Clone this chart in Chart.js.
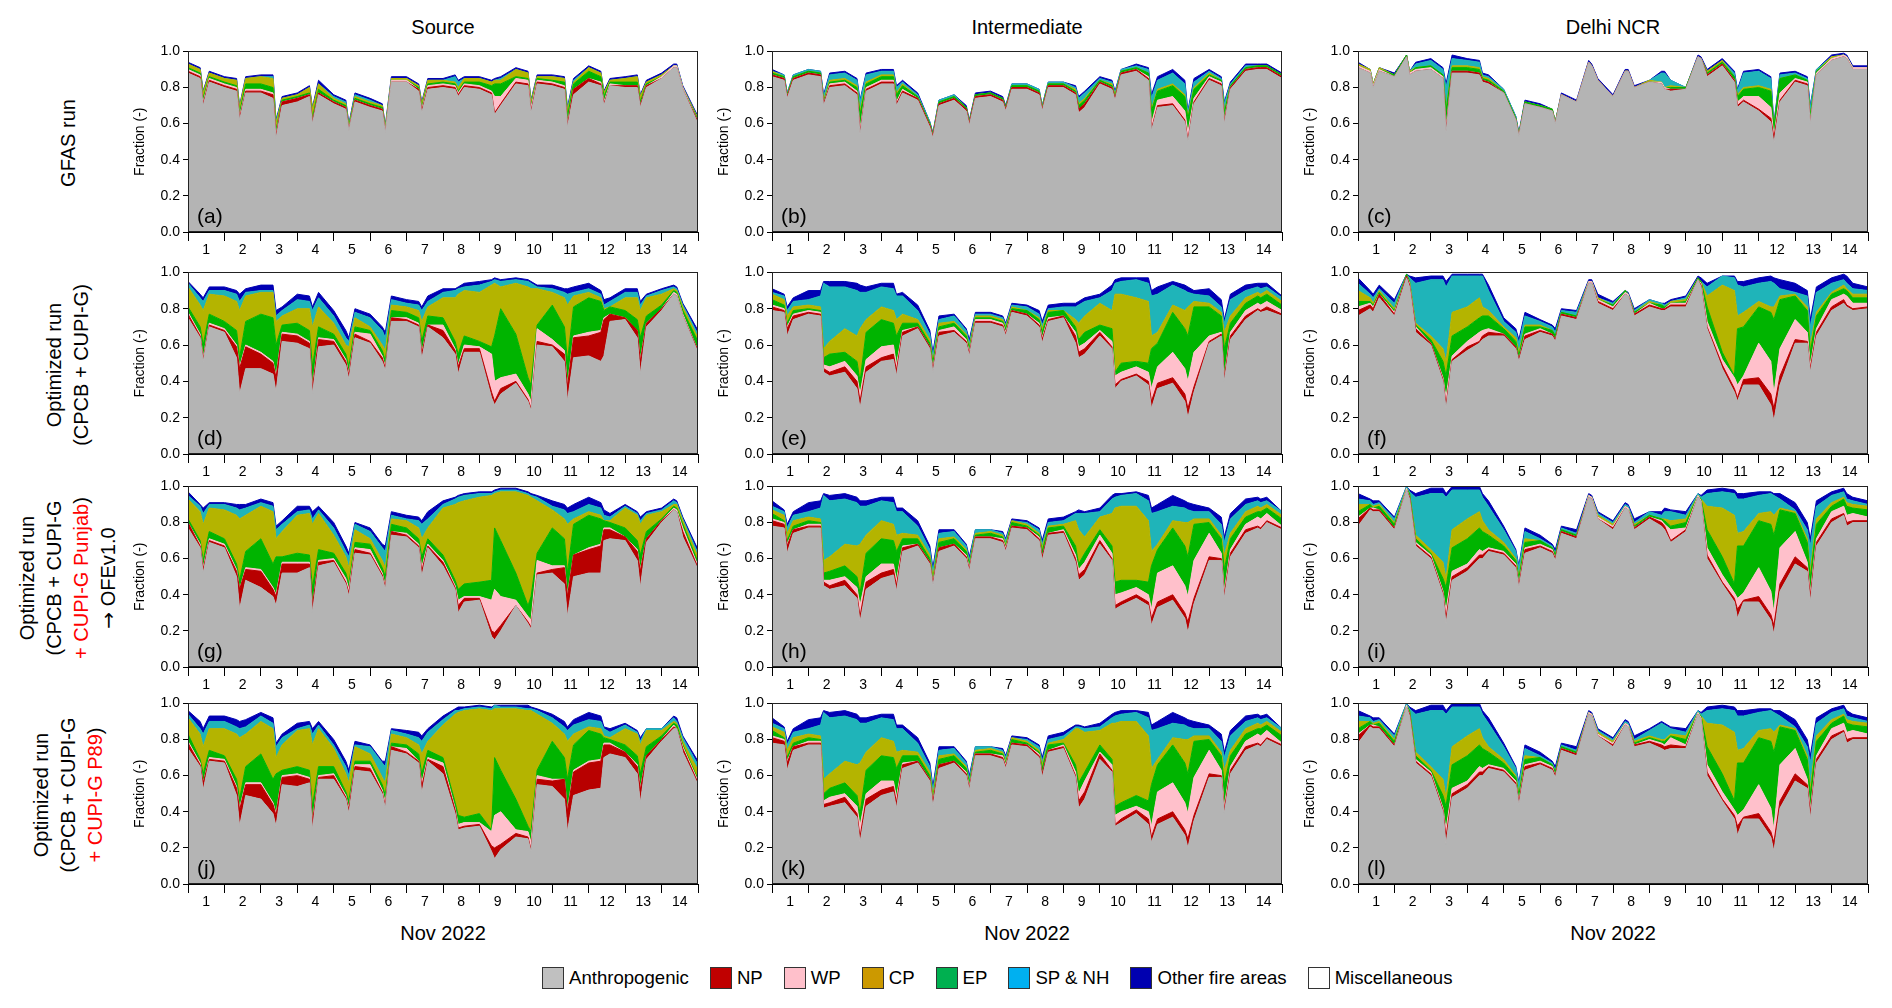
<!DOCTYPE html>
<html lang="en">
<head>
<meta charset="utf-8">
<script src="https://cdn.jsdelivr.net/npm/chart.js@4.4.0/dist/chart.umd.min.js"></script>
<style>
  body { margin: 0; width: 1892px; height: 1008px; position: relative; overflow: hidden; background: #fff;
         font-family: "Liberation Sans", Arial, sans-serif; color: #000; }
  canvas { position: absolute; }
  .coltitle, .xtitle { position: absolute; width: 400px; text-align: center; font-size: 20px; line-height: 24px; }
  .rowlabel { position: absolute; width: 300px; text-align: center; font-size: 20px; line-height: 27px;
              transform: translate(-50%, -50%) rotate(-90deg); white-space: nowrap; }
  .red { color: #ff0000; }
  .arrow { font-family: "DejaVu Sans", sans-serif; font-size: 20px; color: #000; }
  #legend { position: absolute; left: 542px; top: 967px; display: flex; align-items: center; font-size: 18.6px; }
  #legend .item { display: flex; align-items: center; margin-right: 21px; }
  #legend .box { width: 20px; height: 20px; border: 1.5px solid #333; margin-right: 5px; }
  #err { position: absolute; left: 10px; top: 990px; color: red; font-size: 12px; }
</style>
</head>
<body>
<div id="legend"></div>
<div id="err"></div>
<script>
const dayLabels = ['1', '2', '3', '4', '5', '6', '7', '8', '9', '10', '11', '12', '13', '14'];
const yTickLabels = ['0.0', '0.2', '0.4', '0.6', '0.8', '1.0'];
const sampleHours = [0, 8, 10, 14];
const columnTitles = ['Source', 'Intermediate', 'Delhi NCR'];

// stacking order in the plots (bottom -> top)
const layerNames = ['Anthropogenic', 'NP', 'WP', 'EP', 'CP', 'SP & NH', 'Other fire areas'];
const layerColors = ['#b4b4b4', '#b80000', '#ffc0cb', '#00b400', '#b4b400', '#1fb4b9', '#0000b4'];

const legendNames = ['Anthropogenic', 'NP', 'WP', 'CP', 'EP', 'SP & NH', 'Other fire areas', 'Miscellaneous'];
const legendColors = ['#c0c0c0', '#c00000', '#ffc0cb', '#cc9900', '#00b050', '#00b0f0', '#0000b0', '#ffffff'];

// time axis: days since 1 Nov 00h, four samples a day plus the end of 14 Nov
const times = [];
for (let d = 0; d < 14; d++) sampleHours.forEach(h => times.push(d + h / 24));
times.push(14);

// values in %: upper edge of each stacked band (anth, +NP, +WP, +EP, +CP, +SP&NH, +other)
// (a) GFAS run, source
const a_anth = [88,85,70,83, 80,78,62,77, 77,74,52,70, 72,75,60,76, 71,68,56,72, 69,67,55,83, 83,78,66,79, 80,79,75,80, 79,76,65,70, 82,81,66,82, 81,79,58,76, 83,81,70,81, 80,80,69,80, 85,91,91,79, 60];
const a_np   = [89,86,71,84, 81,79,63,78, 78,76,53,72, 74,76,61,77, 72,69,56,73, 70,68,55,83, 83,79,67,80, 81,80,76,81, 80,77,66,71, 83,82,67,83, 82,80,59,79, 85,82,71,81, 81,81,70,81, 85,91,91,79, 61];
const a_wp   = [90,87,72,85, 82,80,64,79, 79,77,54,72, 74,76,61,77, 72,69,57,73, 70,68,56,84, 84,79,68,81, 82,81,77,82, 81,78,75,75, 85,84,69,84, 83,81,60,79, 85,83,72,82, 81,81,70,81, 86,92,92,80, 61];
const a_ep   = [91,88,74,86, 83,81,66,82, 82,80,56,73, 75,77,63,79, 73,70,58,74, 71,69,57,84, 84,80,69,82, 83,82,78,83, 83,81,82,82, 86,85,70,85, 84,83,64,82, 89,86,75,83, 83,83,72,82, 86,92,92,80, 62];
const a_cp   = [93,90,77,88, 85,84,69,85, 86,85,60,74, 76,80,68,82, 74,71,59,75, 72,70,58,85, 85,81,71,84, 84,83,80,85, 85,83,84,84, 90,88,72,86, 86,85,67,83, 91,88,77,84, 85,86,75,83, 87,92,92,80, 63];
const a_sp   = [93,90,77,88, 85,84,69,85, 86,86,61,74, 76,80,68,82, 75,72,59,76, 73,70,58,85, 85,81,71,84, 84,86,83,85, 85,83,84,85, 90,88,72,86, 86,85,68,84, 91,88,77,84, 85,86,75,83, 87,92,92,80, 63];
const a_oth  = [94,91,78,89, 86,85,70,86, 87,87,62,75, 77,81,69,84, 76,73,60,77, 74,71,59,86, 86,82,72,85, 85,87,84,86, 86,84,85,86, 91,89,73,87, 87,86,69,85, 92,89,78,85, 86,87,76,84, 88,93,93,81, 64];
// (b) GFAS run, intermediate
const b_anth = [86,84,74,84, 87,86,70,80, 81,76,54,78, 82,82,70,77, 73,58,52,70, 73,67,59,74, 75,72,67,79, 79,76,67,80, 80,76,66,69, 82,79,73,87, 89,84,56,69, 70,61,50,71, 84,81,60,79, 89,90,90,90, 85];
const b_np   = [87,85,75,85, 88,87,71,81, 82,77,55,79, 83,83,71,78, 74,59,53,71, 74,68,60,75, 76,73,68,80, 80,77,68,81, 81,77,68,71, 83,80,74,88, 90,85,57,70, 71,62,51,72, 85,82,61,80, 90,91,91,91, 86];
const b_wp   = [87,85,75,85, 88,87,71,82, 83,78,57,80, 84,84,72,79, 74,59,53,71, 74,68,60,75, 76,73,68,80, 80,77,68,81, 81,77,68,71, 83,80,74,88, 90,86,60,73, 75,67,55,74, 86,83,62,80, 90,91,91,91, 86];
const b_ep   = [88,86,76,86, 89,88,72,83, 84,80,65,82, 86,86,76,81, 75,60,54,72, 75,69,61,76, 77,74,69,81, 81,78,69,82, 82,78,70,73, 84,81,75,89, 91,88,67,78, 81,75,63,79, 87,84,66,81, 91,92,92,92, 87];
const b_cp   = [89,86,76,86, 89,88,73,84, 85,81,67,83, 87,87,77,82, 75,60,54,72, 75,69,61,76, 77,74,69,81, 81,78,69,82, 82,79,71,74, 84,82,76,89, 91,88,68,79, 82,76,64,80, 88,84,67,81, 91,92,92,92, 87];
const b_sp   = [89,87,77,87, 90,89,75,87, 88,84,72,87, 89,89,80,83, 76,61,54,73, 76,69,61,76, 77,74,69,82, 82,79,70,83, 83,80,74,77, 85,83,77,90, 92,90,74,84, 88,82,66,83, 89,85,71,82, 92,92,92,92, 87];
const b_oth  = [90,87,77,87, 90,89,76,88, 89,85,73,88, 90,90,81,84, 77,61,55,73, 76,70,62,77, 78,75,70,82, 82,79,70,83, 83,81,75,78, 86,84,78,90, 93,91,76,86, 90,84,67,85, 90,86,72,83, 93,93,93,93, 88];
// (c) GFAS run, Delhi NCR
const c_anth = [91,88,80,89, 86,97,87,89, 90,85,55,88, 88,87,83,82, 77,62,53,71, 69,67,60,76, 72,94,92,84, 75,89,89,80, 83,82,79,78, 79,97,96,86, 92,83,69,72, 67,61,49,72, 83,81,60,87, 95,97,96,90, 90];
const c_np   = [91,88,80,89, 86,97,87,89, 90,85,56,89, 89,88,84,83, 77,62,53,71, 69,67,60,76, 72,94,92,84, 75,89,89,80, 83,82,79,79, 79,97,96,87, 93,84,70,73, 68,63,52,73, 84,82,60,87, 95,97,96,90, 90];
const c_wp   = [92,89,81,90, 86,97,88,90, 91,86,58,89, 89,88,84,83, 77,62,53,71, 69,67,60,76, 72,94,92,84, 75,89,89,80, 83,83,80,79, 79,97,96,87, 93,84,72,75, 75,69,53,77, 85,83,61,88, 96,98,97,91, 91];
const c_ep   = [92,89,81,90, 87,98,88,91, 92,87,67,91, 91,90,85,84, 78,63,54,72, 70,68,61,76, 72,94,92,84, 75,89,89,80, 83,83,80,80, 80,97,96,88, 94,86,75,79, 80,78,58,85, 87,84,64,89, 96,98,97,91, 91];
const c_cp   = [93,90,82,91, 87,98,89,91, 92,87,68,92, 92,91,86,85, 78,63,54,72, 70,68,61,76, 72,94,92,84, 75,89,89,80, 84,83,80,81, 80,97,96,89, 95,86,76,80, 81,79,58,85, 87,84,64,89, 97,98,97,91, 91];
const c_sp   = [93,90,82,91, 87,98,89,93, 95,90,80,96, 95,94,87,86, 79,64,54,72, 70,68,61,76, 72,94,92,84, 75,89,89,80, 84,88,88,84, 80,97,96,89, 95,88,78,88, 89,85,59,87, 88,85,69,90, 97,98,97,91, 91];
const c_oth  = [94,90,82,91, 88,98,89,94, 96,91,82,98, 96,95,88,87, 79,64,55,73, 71,68,61,77, 73,95,93,85, 76,90,90,81, 84,89,89,84, 80,98,97,90, 96,89,79,89, 90,86,60,88, 89,86,70,90, 98,99,98,92, 92];
// (d) optimized run, source
const d_anth = [75,64,51,70, 67,53,33,47, 47,44,34,62, 61,58,33,59, 60,49,41,64, 61,51,46,73, 73,70,52,70, 64,55,44,56, 56,31,27,33, 39,29,24,60, 59,51,29,53, 54,51,54,73, 74,64,44,70, 79,88,87,76, 56];
const d_np   = [77,65,52,71, 68,59,47,59, 55,50,42,66, 65,61,36,63, 62,51,43,66, 62,53,47,75, 74,71,55,71, 68,57,48,58, 58,34,29,36, 40,30,25,62, 60,55,37,64, 65,67,74,77, 75,68,51,72, 80,88,87,76, 57];
const d_wp   = [78,66,53,72, 69,60,48,60, 56,51,43,67, 66,62,37,64, 63,52,44,67, 66,54,48,75, 75,72,56,71, 71,58,49,60, 59,55,40,42, 44,33,29,69, 63,57,38,65, 67,68,75,77, 75,68,52,72, 80,89,88,77, 57];
const d_ep   = [81,70,60,77, 73,68,53,73, 77,75,60,71, 72,68,48,70, 66,55,48,70, 68,57,51,79, 78,75,62,76, 75,62,55,65, 62,59,65,80, 66,42,38,71, 82,70,51,81, 86,84,79,81, 79,74,64,76, 82,90,89,79, 62];
const d_cp   = [92,82,79,88, 87,84,79,87, 89,89,73,76, 80,80,70,81, 72,60,59,75, 70,60,57,82, 81,79,73,81, 86,86,88,90, 89,93,94,92, 94,92,91,91, 89,86,82,87, 89,86,80,81, 86,86,79,86, 88,91,90,81, 64];
const d_sp   = [94,86,84,90, 90,88,84,89, 90,90,76,79, 85,84,79,86, 76,64,62,78, 75,68,64,85, 83,82,79,84, 89,90,91,92, 93,95,96,95, 96,95,94,92, 91,89,88,89, 91,88,82,84, 89,89,82,87, 90,92,91,82, 66];
const d_oth  = [95,88,86,92, 92,90,88,91, 93,93,79,81, 88,87,81,89, 79,68,64,80, 77,70,67,87, 85,84,81,87, 91,91,92,94, 95,96,97,96, 97,96,95,93, 93,91,91,92, 94,90,85,86, 91,91,84,88, 91,93,92,83, 68];
// (e) optimized run, intermediate
const e_anth = [79,78,65,74, 77,76,45,43, 45,36,25,45, 51,52,43,65, 69,58,45,65, 67,61,54,72, 72,70,65,78, 76,70,61,73, 75,61,53,55, 65,58,36,40, 43,38,25,36, 39,29,20,34, 61,65,40,63, 74,79,78,79, 76];
const e_np   = [81,79,69,76, 78,77,47,45, 48,40,29,48, 53,55,46,67, 70,59,46,67, 68,62,55,73, 73,71,66,79, 77,71,63,74, 76,65,56,58, 67,59,38,41, 44,40,29,39, 42,33,25,37, 62,66,42,65, 76,80,79,81, 77];
const e_wp   = [82,80,70,77, 79,78,49,48, 51,43,33,52, 59,60,49,68, 70,59,47,68, 70,63,56,74, 74,72,67,79, 77,72,64,75, 76,67,59,61, 68,62,43,45, 48,45,36,48, 56,47,40,56, 65,67,43,67, 79,83,82,84, 79];
const e_ep   = [85,82,72,79, 80,79,53,55, 56,51,40,67, 74,72,65,72, 72,61,50,70, 72,65,58,75, 75,73,69,80, 79,74,67,78, 79,70,63,67, 71,69,45,50, 51,50,58,61, 78,69,65,81, 81,76,58,72, 83,87,86,88, 82];
const e_cp   = [88,85,76,81, 82,81,58,62, 69,65,69,74, 81,79,74,77, 74,63,51,72, 73,66,59,76, 76,74,70,81, 79,75,69,79, 79,74,72,76, 83,79,88,88, 86,84,65,67, 82,79,81,84, 83,78,67,76, 86,89,88,90, 84];
const e_sp   = [89,87,79,84, 85,87,94,92, 92,90,89,89, 92,91,87,87, 79,66,54,74, 76,68,61,77, 77,75,71,82, 81,77,71,80, 81,81,82,84, 86,90,94,95, 96,94,87,88, 93,90,89,88, 87,81,72,85, 90,92,91,92, 86];
const e_oth  = [91,88,81,86, 90,90,95,95, 95,94,93,92, 94,94,88,89, 82,68,56,76, 77,69,63,78, 78,76,72,83, 82,79,73,82, 83,83,84,86, 88,93,96,97, 97,97,90,92, 95,93,92,90, 91,85,74,88, 93,94,94,94, 87];
// (f) optimized run, Delhi NCR
const f_anth = [76,80,78,86, 76,97,92,67, 60,40,25,51, 57,61,63,65, 65,58,51,63, 67,65,62,76, 74,94,94,83, 79,88,87,76, 81,79,79,81, 81,96,92,69, 47,34,29,38, 38,27,18,38, 61,61,45,65, 79,83,81,79, 80];
const f_np   = [79,82,80,88, 77,98,93,69, 61,41,27,52, 59,62,65,67, 66,59,52,65, 68,66,63,77, 75,94,94,84, 80,88,87,77, 82,80,80,82, 82,96,93,70, 49,36,31,41, 42,33,25,43, 63,62,47,67, 81,85,82,80, 81];
const f_wp   = [81,83,81,88, 78,98,94,70, 61,42,31,54, 62,67,68,69, 66,59,52,66, 69,66,63,77, 75,95,95,85, 81,89,88,77, 83,80,80,83, 83,96,94,73, 52,42,38,43, 61,51,33,58, 74,67,49,69, 85,88,87,83, 83];
const f_ep   = [84,84,82,89, 79,99,95,71, 63,51,43,65, 70,75,76,76, 69,62,54,70, 70,68,65,78, 76,95,95,85, 82,90,88,78, 83,82,81,83, 84,97,95,81, 56,43,69,70, 81,78,74,85, 87,79,56,76, 88,91,90,86, 86];
const f_cp   = [90,86,83,90, 80,99,95,72, 65,58,51,78, 81,86,81,79, 70,64,56,71, 71,68,65,78, 76,95,95,86, 82,90,88,78, 84,82,81,84, 85,97,95,87, 93,90,76,78, 84,81,81,87, 88,81,60,78, 89,93,91,88, 88];
const f_sp   = [94,88,86,91, 83,99,97,94, 96,96,92,98, 98,98,98,90, 73,67,61,76, 73,70,67,79, 78,95,95,86, 83,90,88,79, 85,83,82,84, 86,97,95,92, 98,97,93,92, 94,95,94,91, 89,87,70,89, 94,96,94,91, 90];
const f_oth  = [97,90,88,93, 85,99,98,97, 98,98,95,99, 99,99,99,93, 75,69,63,78, 74,71,69,80, 79,96,96,88, 84,90,89,80, 85,83,83,85, 87,98,97,94, 98,98,95,95, 97,98,97,96, 94,90,74,92, 97,99,98,94, 92];
// (g) optimized run + CUPI-G Punjab -> OFEv1.0, source
const g_anth = [77,66,52,69, 66,50,32,48, 44,39,34,52, 52,55,30,56, 58,46,39,63, 62,50,43,73, 72,66,50,66, 56,43,30,36, 37,17,15,20, 34,24,21,51, 52,46,28,50, 52,52,70,71, 70,59,44,69, 80,87,86,72, 54];
const g_np   = [80,67,54,70, 67,53,43,54, 53,43,39,57, 57,57,34,58, 59,47,41,65, 63,51,44,75, 73,67,53,67, 58,44,34,38, 38,20,19,23, 34,25,22,52, 54,55,39,62, 65,67,76,76, 72,64,53,71, 81,87,86,75, 55];
const g_wp   = [80,68,55,71, 68,54,43,55, 54,44,40,58, 58,58,34,59, 60,49,43,66, 65,52,45,75, 74,68,55,68, 59,45,37,39, 39,37,43,39, 37,28,26,59, 56,56,40,62, 66,68,77,77, 72,65,54,71, 81,88,87,77, 56];
const g_ep   = [82,70,59,75, 71,57,48,64, 71,57,61,61, 63,62,44,65, 63,52,46,69, 68,55,50,79, 77,71,61,71, 62,48,43,46, 47,48,77,70, 52,34,39,63, 77,71,52,79, 84,82,81,80, 77,70,62,75, 82,89,88,79, 58];
const g_cp   = [93,86,79,88, 87,84,82,84, 89,86,71,75, 84,85,79,85, 73,61,55,76, 71,59,55,82, 81,77,71,77, 88,90,91,92, 94,95,96,97, 97,95,94,92, 87,82,79,82, 86,84,81,81, 88,84,79,84, 86,90,90,81, 61];
const g_sp   = [95,89,85,90, 90,88,87,88, 91,89,76,79, 86,87,82,87, 77,64,61,79, 75,66,64,84, 82,81,79,82, 90,93,94,95, 96,96,97,98, 98,96,95,94, 89,87,85,86, 90,88,84,83, 89,85,81,85, 87,92,91,82, 63];
const g_oth  = [97,90,88,91, 91,90,90,90, 93,91,78,81, 89,89,86,89, 80,67,63,80, 77,68,67,86, 84,83,81,86, 92,94,95,96, 97,97,98,99, 99,97,96,95, 92,90,88,90, 94,91,87,85, 90,86,83,86, 88,93,92,83, 65];
// (h) optimized run + CUPI-G Punjab -> OFEv1.0, intermediate
const h_anth = [78,77,63,74, 77,77,45,43, 45,38,25,43, 49,51,42,64, 67,57,45,64, 67,60,53,71, 71,69,64,77, 76,70,59,73, 74,58,48,51, 68,59,32,34, 38,34,23,33, 37,27,19,35, 59,59,38,61, 74,77,76,80, 76];
const h_np   = [81,79,67,76, 78,78,47,45, 48,40,28,47, 52,54,45,66, 68,58,46,66, 68,61,54,72, 72,70,65,78, 77,71,61,74, 75,60,51,54, 70,60,34,36, 40,36,27,36, 40,30,25,38, 61,60,40,63, 76,78,77,81, 77];
const h_wp   = [82,80,68,76, 79,79,48,48, 50,44,34,50, 57,57,48,67, 68,58,47,66, 68,62,55,72, 72,71,66,78, 77,72,61,74, 76,62,54,58, 73,63,40,41, 44,40,32,52, 56,45,39,59, 74,63,42,65, 79,83,82,85, 78];
const h_ep   = [85,81,70,78, 81,80,52,53, 56,50,41,63, 71,70,64,71, 71,60,48,69, 71,64,57,73, 74,72,67,80, 78,73,64,77, 78,67,57,63, 76,67,47,48, 48,47,56,65, 77,67,61,79, 80,71,54,71, 83,86,86,88, 82];
const h_cp   = [87,84,74,81, 83,82,59,61, 68,67,68,73, 81,79,73,74, 73,62,50,71, 72,65,57,74, 75,73,68,81, 79,74,66,78, 79,81,76,72, 83,85,88,89, 89,81,64,68, 81,80,80,82, 82,73,62,74, 86,89,88,90, 84];
const h_sp   = [89,86,77,84, 86,88,95,92, 93,91,89,89, 92,91,86,86, 78,65,53,74, 75,67,59,76, 76,74,70,81, 80,76,68,80, 81,85,85,85, 86,93,94,95, 96,92,85,86, 89,88,87,86, 86,79,69,82, 90,92,91,92, 86];
const h_oth  = [92,87,79,86, 91,92,96,95, 96,94,92,92, 94,94,88,88, 81,67,55,76, 76,68,61,76, 76,75,71,82, 81,77,70,82, 83,86,87,86, 88,95,96,96, 97,95,88,90, 95,92,91,90, 88,83,72,85, 93,94,93,94, 86];
// (i) optimized run + CUPI-G Punjab -> OFEv1.0, Delhi NCR
const i_anth = [78,87,86,86, 76,98,93,67, 60,40,24,48, 53,60,60,64, 62,55,44,63, 66,63,59,74, 71,94,93,82, 76,88,87,76, 82,78,76,69, 75,94,91,60, 46,36,27,36, 36,26,18,42, 57,53,36,67, 80,84,78,80, 80];
const i_np   = [82,88,87,87, 77,98,94,68, 61,41,27,50, 55,62,62,65, 63,56,45,65, 67,64,60,75, 72,94,93,82, 77,88,87,77, 83,80,78,70, 76,94,91,62, 47,38,32,37, 39,29,23,46, 61,55,39,69, 82,85,80,81, 81];
const i_wp   = [83,88,88,87, 77,99,94,69, 62,42,31,53, 57,65,64,66, 64,57,46,66, 68,65,60,75, 72,95,94,83, 78,89,88,77, 83,81,79,76, 77,95,92,66, 51,41,38,41, 55,42,30,66, 75,58,41,71, 86,89,84,85, 83];
const i_ep   = [86,90,88,89, 79,99,96,71, 63,49,44,66, 71,77,75,73, 67,59,49,69, 70,66,62,76, 73,95,94,83, 78,89,88,78, 84,82,81,78, 80,95,93,76, 61,46,67,67, 81,79,73,87, 85,69,49,79, 89,93,89,88, 87];
const i_cp   = [90,90,89,90, 80,99,96,73, 65,58,49,76, 82,86,81,76, 69,60,50,71, 70,66,62,76, 73,95,94,84, 79,89,88,79, 84,82,82,81, 82,95,93,89, 88,84,74,75, 85,86,84,88, 86,71,53,82, 91,94,91,90, 89];
const i_sp   = [93,92,90,91, 82,100,97,94, 96,96,94,98, 98,98,94,89, 76,64,55,75, 71,67,63,77, 74,95,94,85, 80,90,89,80, 86,84,86,86, 84,96,94,96, 97,96,93,93, 95,96,95,93, 87,76,67,89, 95,97,93,92, 90];
const i_oth  = [96,93,92,92, 83,100,98,96, 99,99,96,100, 100,100,96,92, 78,65,56,77, 73,68,65,78, 76,96,95,86, 81,91,90,82, 86,86,88,87, 86,96,95,98, 99,98,96,96, 97,97,96,96, 91,80,71,92, 97,99,96,94, 92];
// (j) optimized run + CUPI-G P89, source
const j_anth = [75,65,52,68, 67,49,32,49, 47,39,32,55, 54,56,30,58, 58,47,39,63, 62,50,42,74, 72,67,50,68, 61,39,30,31, 32,18,14,19, 26,25,18,55, 54,47,29,49, 52,53,70,72, 70,61,45,69, 79,86,86,73, 55];
const j_np   = [78,66,56,69, 68,53,41,55, 55,44,38,59, 60,58,34,59, 60,48,41,65, 64,51,43,76, 73,68,54,69, 65,41,31,32, 33,21,20,22, 28,26,19,58, 57,58,40,62, 67,68,77,77, 73,65,52,71, 80,87,86,75, 56];
const j_wp   = [79,67,56,70, 69,54,42,56, 56,45,39,60, 61,59,35,60, 61,49,42,66, 66,52,45,76, 75,68,56,70, 67,42,33,34, 34,29,38,40, 30,29,23,60, 58,58,41,63, 68,69,78,78, 73,66,53,71, 80,88,86,76, 57];
const j_ep   = [83,69,61,74, 71,58,47,65, 72,58,61,63, 65,63,43,65, 65,51,46,68, 68,55,49,78, 77,72,61,74, 70,45,38,37, 39,30,70,63, 47,32,29,63, 79,70,58,77, 85,83,81,80, 77,71,61,76, 82,89,88,77, 58];
const j_cp   = [92,83,76,86, 86,83,81,83, 90,86,70,77, 85,86,77,86, 75,61,56,76, 72,59,56,83, 81,77,72,79, 88,94,95,96, 97,96,97,97, 97,96,96,94, 89,83,79,83, 87,86,82,81, 86,83,77,85, 85,90,89,79, 63];
const j_sp   = [94,86,83,90, 90,87,86,87, 93,89,76,81, 86,88,83,88, 77,65,60,77, 76,67,65,85, 83,81,79,84, 91,96,96,97, 98,97,99,98, 98,97,97,96, 92,87,85,88, 91,90,86,84, 88,84,79,86, 86,92,90,81, 66];
const j_oth  = [96,90,86,93, 93,91,90,91, 95,92,78,83, 89,90,86,90, 80,68,63,79, 77,68,68,86, 85,84,82,86, 93,97,98,98, 99,98,99,99, 99,99,98,97, 94,90,87,91, 95,93,87,86, 89,85,81,86, 86,93,92,82, 68];
// (k) optimized run + CUPI-G P89, intermediate
const k_anth = [78,77,63,74, 77,77,42,43, 45,37,23,43, 49,51,42,64, 67,57,43,64, 67,60,52,71, 71,69,64,77, 76,70,59,73, 75,59,42,47, 69,62,32,34, 39,33,23,33, 37,27,20,35, 59,59,39,61, 74,77,76,80, 76];
const k_np   = [81,79,67,76, 78,78,44,45, 48,39,26,47, 52,54,45,66, 68,58,45,66, 68,61,53,72, 72,70,65,78, 77,71,61,74, 76,60,46,51, 72,63,33,36, 41,36,26,36, 40,30,25,38, 61,60,41,63, 76,78,77,81, 77];
const k_wp   = [82,80,68,76, 79,79,46,48, 50,43,32,50, 57,57,48,67, 68,58,46,66, 68,62,54,72, 72,71,66,78, 77,72,61,74, 77,62,50,57, 73,66,38,40, 43,40,32,51, 56,45,39,59, 74,63,43,65, 79,83,82,85, 78];
const k_ep   = [85,81,70,78, 81,80,50,53, 56,49,39,63, 71,70,64,71, 71,60,47,69, 71,64,56,73, 74,72,67,80, 78,73,64,77, 78,66,56,62, 77,69,43,45, 49,46,55,66, 77,67,61,79, 80,71,55,71, 83,86,86,88, 82];
const k_cp   = [87,84,74,81, 83,82,58,61, 68,66,67,73, 81,79,73,74, 73,62,49,71, 72,65,56,74, 75,73,68,81, 79,74,66,78, 80,86,86,84, 85,89,89,90, 90,82,64,69, 81,80,80,82, 82,73,63,74, 86,89,88,90, 84];
const k_sp   = [89,86,77,84, 86,88,95,92, 93,91,89,89, 92,91,86,86, 78,65,52,74, 75,67,58,76, 76,74,70,81, 80,76,68,80, 82,87,87,86, 87,92,93,94, 95,92,85,86, 89,88,87,86, 86,79,70,82, 90,92,91,92, 86];
const k_oth  = [92,87,79,86, 91,92,96,95, 96,94,92,92, 94,94,88,88, 81,67,54,76, 76,68,60,76, 76,75,71,82, 81,77,70,82, 84,88,88,87, 89,94,95,96, 96,95,88,90, 95,92,91,90, 88,83,73,85, 93,94,93,94, 86];
// (l) optimized run + CUPI-G P89, Delhi NCR
const l_anth = [78,87,86,86, 76,98,93,67, 60,40,22,48, 53,60,60,64, 62,55,44,63, 66,63,59,74, 71,94,93,82, 76,88,87,76, 78,75,74,75, 75,94,91,60, 46,36,27,36, 36,26,18,42, 57,53,36,67, 80,84,78,80, 80];
const l_np   = [82,88,87,87, 77,98,94,68, 61,41,26,50, 55,62,62,65, 63,56,45,65, 67,64,60,75, 72,94,93,82, 77,88,87,77, 79,77,76,77, 76,94,91,62, 47,38,32,37, 39,29,23,46, 61,55,39,69, 82,85,80,81, 81];
const l_wp   = [83,88,88,87, 77,99,94,69, 62,42,30,53, 57,65,64,66, 64,57,46,66, 68,65,60,75, 72,95,94,83, 78,89,88,77, 80,78,77,81, 77,95,92,66, 51,41,38,41, 55,42,30,66, 75,58,41,71, 86,89,84,85, 83];
const l_ep   = [86,90,88,89, 79,99,96,71, 63,49,43,66, 71,77,75,73, 67,59,49,69, 70,66,62,76, 73,95,94,83, 78,89,88,78, 81,79,79,82, 80,95,93,76, 61,46,67,67, 81,79,73,87, 85,69,49,79, 89,93,89,88, 87];
const l_cp   = [90,90,89,90, 80,99,96,73, 65,58,48,76, 82,86,81,76, 69,60,50,71, 70,66,62,76, 73,95,94,84, 79,89,88,79, 82,80,80,83, 82,95,93,89, 88,84,74,75, 85,86,84,88, 86,71,53,82, 91,94,91,90, 89];
const l_sp   = [93,92,90,91, 82,100,97,94, 96,96,94,98, 98,98,94,89, 76,64,55,75, 71,67,63,77, 74,95,94,85, 80,90,89,80, 85,89,88,86, 84,96,94,96, 97,96,93,93, 95,96,95,93, 87,76,67,89, 95,97,93,92, 90];
const l_oth  = [96,93,92,92, 83,100,98,96, 99,99,96,100, 100,100,96,92, 78,65,56,77, 73,68,65,78, 76,96,95,86, 81,91,90,82, 86,90,89,87, 86,96,95,98, 99,98,96,96, 97,97,96,96, 91,80,71,92, 97,99,96,94, 92];

const panels = {
  a: [a_anth, a_np, a_wp, a_ep, a_cp, a_sp, a_oth],
  b: [b_anth, b_np, b_wp, b_ep, b_cp, b_sp, b_oth],
  c: [c_anth, c_np, c_wp, c_ep, c_cp, c_sp, c_oth],
  d: [d_anth, d_np, d_wp, d_ep, d_cp, d_sp, d_oth],
  e: [e_anth, e_np, e_wp, e_ep, e_cp, e_sp, e_oth],
  f: [f_anth, f_np, f_wp, f_ep, f_cp, f_sp, f_oth],
  g: [g_anth, g_np, g_wp, g_ep, g_cp, g_sp, g_oth],
  h: [h_anth, h_np, h_wp, h_ep, h_cp, h_sp, h_oth],
  i: [i_anth, i_np, i_wp, i_ep, i_cp, i_sp, i_oth],
  j: [j_anth, j_np, j_wp, j_ep, j_cp, j_sp, j_oth],
  k: [k_anth, k_np, k_wp, k_ep, k_cp, k_sp, k_oth],
  l: [l_anth, l_np, l_wp, l_ep, l_cp, l_sp, l_oth]
};

// plot boxes in page pixels
const cols = [[188, 698], [772, 1282], [1358, 1868]];
const rows = [[51, 235], [272, 457], [486, 670], [703, 887]];
const grid = [['a', 'b', 'c'], ['d', 'e', 'f'], ['g', 'h', 'i'], ['j', 'k', 'l']];

const rowLabels = [
  'GFAS run',
  'Optimized run<br>(CPCB + CUPI-G)',
  'Optimized run<br>(CPCB + CUPI-G<br><span class="red">+ CUPI-G Punjab</span>)<br><span class="arrow">→</span> OFEv1.0',
  'Optimized run<br>(CPCB + CUPI-G<br><span class="red">+ CUPI-G P89</span>)'
];

Chart.defaults.font.family = '"Liberation Sans", Arial, sans-serif';
Chart.defaults.color = '#000';

const bad = [];
Object.keys(panels).forEach(p => panels[p].forEach((s, k) => { if (s.length !== times.length) bad.push(p + k + ':' + s.length); }));
if (bad.length) document.getElementById('err').textContent = 'length mismatch ' + bad.join(' ');

const frame = tag => ({
  id: 'frame',
  afterDraw(c) {
    const { ctx, chartArea: a } = c;
    ctx.save();
    ctx.strokeStyle = '#222';
    ctx.lineWidth = 1;
    ctx.strokeRect(Math.round(a.left) + 0.5, Math.round(a.top) + 0.5, Math.round(a.width) - 1, Math.round(a.height) - 1);
    ctx.fillStyle = '#000';
    ctx.font = '21px "Liberation Sans", Arial, sans-serif';
    ctx.fillText('(' + tag + ')', a.left + 9, a.bottom - 9);
    ctx.restore();
  }
});

function makePanel(tag, box) {
  const [L, R, T, B] = box;
  const padL = 56, padT = 8, padR = 8, padB = 34;
  const cv = document.createElement('canvas');
  cv.width = R - L + padL + padR;
  cv.height = B - T + padT + padB;
  cv.style.left = (L - padL) + 'px';
  cv.style.top = (T - padT) + 'px';
  document.body.appendChild(cv);
  const dayPx = (R - L) / 14;
  const chart = new Chart(cv, {
    type: 'line',
    data: {
      datasets: panels[tag].map((arr, k) => ({
        label: layerNames[k],
        data: arr.map((v, i) => ({ x: times[i], y: v })),
        backgroundColor: layerColors[k],
        borderColor: layerColors[k],
        borderWidth: 1,
        pointRadius: 0,
        tension: 0,
        fill: k === 0 ? 'origin' : '-1'
      }))
    },
    options: {
      responsive: false,
      animation: false,
      devicePixelRatio: 1,
      layout: { padding: { top: padT, right: padR, left: 0, bottom: 0 } },
      plugins: { legend: { display: false }, tooltip: { enabled: false } },
      scales: {
        x: {
          type: 'linear', min: 0, max: 14,
          afterFit: s => { s.height = padB; },
          ticks: { stepSize: 1, autoSkip: false, maxRotation: 0, labelOffset: dayPx / 2, padding: 1,
                   font: { size: 14 }, callback: v => dayLabels[v] || '' },
          grid: { drawOnChartArea: false, tickLength: 9, color: '#000' },
          border: { color: '#000' }
        },
        y: {
          min: 0, max: 100,
          afterFit: s => { s.width = padL; },
          ticks: { stepSize: 20, padding: 3, font: { size: 14 }, callback: v => yTickLabels[Math.round(v / 20)] },
          grid: { drawOnChartArea: false, tickLength: 5, color: '#000' },
          border: { color: '#000' },
          title: { display: true, text: 'Fraction (-)', font: { size: 14 }, padding: { top: 0, bottom: 2 } }
        }
      }
    },
    plugins: [frame(tag)]
  });
  // nudge the canvas so the plot box sits where the reference has it
  const ca = chart.chartArea;
  cv.style.left = (L - ca.left) + 'px';
  cv.style.top = (T - ca.top) + 'px';
}

grid.forEach((row, r) => row.forEach((tag, c) => {
  makePanel(tag, [cols[c][0], cols[c][1], rows[r][0], rows[r][1]]);
}));

cols.forEach((cx, c) => {
  const mid = (cx[0] + cx[1]) / 2;
  const t = document.createElement('div');
  t.className = 'coltitle';
  t.style.left = (mid - 200) + 'px';
  t.style.top = '15px';
  t.textContent = columnTitles[c];
  document.body.appendChild(t);
  const x = document.createElement('div');
  x.className = 'xtitle';
  x.style.left = (mid - 200) + 'px';
  x.style.top = '921px';
  x.textContent = 'Nov 2022';
  document.body.appendChild(x);
});

rows.forEach((ry, r) => {
  const d = document.createElement('div');
  d.className = 'rowlabel';
  d.style.left = '68px';
  d.style.top = ((ry[0] + ry[1]) / 2) + 'px';
  d.innerHTML = rowLabels[r];
  document.body.appendChild(d);
});

const legend = document.getElementById('legend');
legendNames.forEach((name, k) => {
  const it = document.createElement('div');
  it.className = 'item';
  it.innerHTML = '<div class="box" style="background:' + legendColors[k] + '"></div><span>' + name + '</span>';
  legend.appendChild(it);
});
</script>
</body>
</html>
